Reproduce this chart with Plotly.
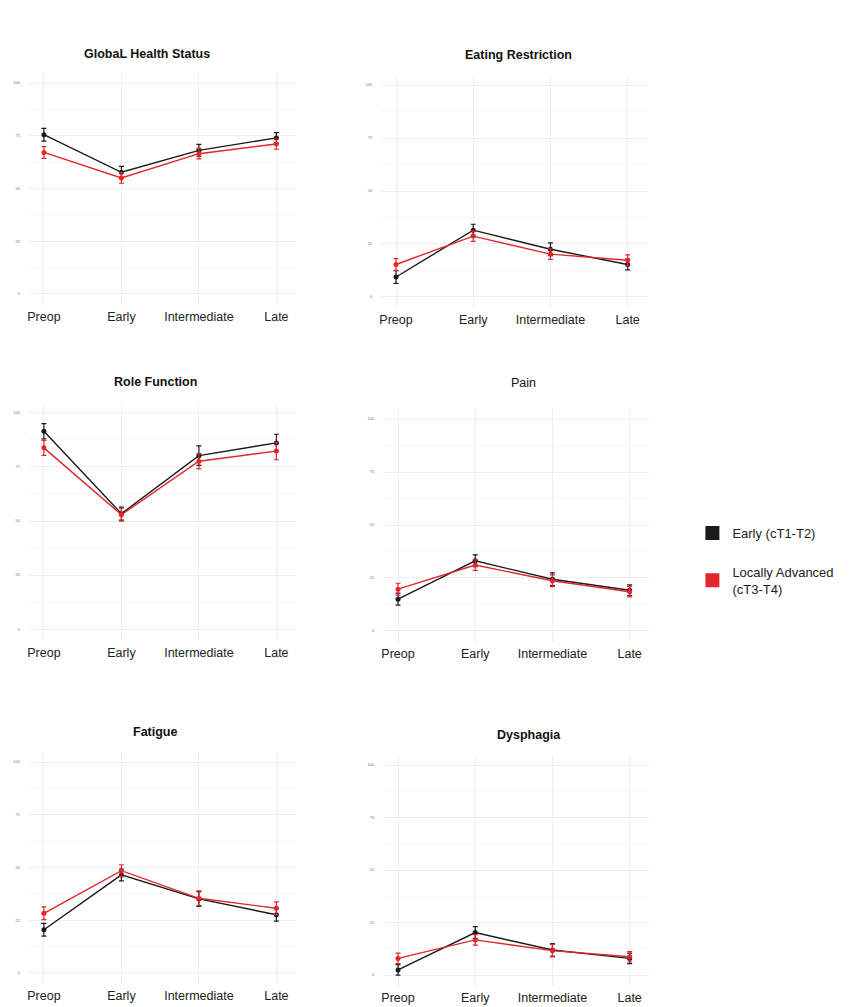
import plotly.graph_objects as go

W, H = 862, 1007

timepoints = ["Preop", "Early", "Intermediate", "Late"]
y_ticks = [0, 25, 50, 75, 100]

group_names = ["Early (cT1-T2)", "Locally Advanced<br>(cT3-T4)"]
group_colors = ["#1a1a1a", "#e3262b"]

# Mean scores and error half-widths per time point, early vs locally advanced
ghs_early = [75.5, 57.7, 68.1, 74.0]
ghs_early_err = [3.0, 2.8, 2.8, 2.5]
ghs_adv = [67.1, 55.0, 66.5, 71.1]
ghs_adv_err = [2.8, 2.5, 2.5, 2.5]

eat_early = [9.4, 31.5, 22.5, 15.3]
eat_early_err = [3.0, 2.8, 3.0, 2.5]
eat_adv = [15.3, 28.7, 20.2, 17.3]
eat_adv_err = [2.8, 2.5, 2.5, 2.5]

role_early = [91.5, 53.4, 80.2, 86.1]
role_early_err = [3.5, 3.0, 4.5, 4.0]
role_adv = [83.8, 52.9, 77.6, 82.3]
role_adv_err = [3.5, 3.0, 3.5, 4.0]

pain_early = [15.0, 33.1, 24.4, 19.2]
pain_early_err = [2.8, 2.8, 3.0, 2.5]
pain_adv = [19.7, 31.1, 23.7, 18.5]
pain_adv_err = [2.8, 2.5, 2.8, 2.5]

fat_early = [20.5, 46.5, 35.1, 27.6]
fat_early_err = [3.0, 2.8, 3.5, 3.0]
fat_adv = [28.3, 48.5, 35.4, 30.7]
fat_adv_err = [3.0, 2.8, 3.5, 3.0]

dys_early = [2.4, 20.2, 11.9, 7.9]
dys_early_err = [2.5, 2.8, 3.0, 2.5]
dys_adv = [7.9, 16.7, 11.6, 8.7]
dys_adv_err = [2.5, 2.5, 3.0, 2.5]

panel_titles = ["GlobaL Health Status", "Eating Restriction", "Role Function",
                "Pain", "Fatigue", "Dysphagia"]
title_bold = [True, True, True, False, True, True]

panels = [
    (ghs_early, ghs_early_err, ghs_adv, ghs_adv_err),
    (eat_early, eat_early_err, eat_adv, eat_adv_err),
    (role_early, role_early_err, role_adv, role_adv_err),
    (pain_early, pain_early_err, pain_adv, pain_adv_err),
    (fat_early, fat_early_err, fat_adv, fat_adv_err),
    (dys_early, dys_early_err, dys_adv, dys_adv_err),
]

# Plot-area boxes in pixels: (left, right, top, bottom)
boxes = [
    (27, 295, 72.5, 304.5),
    (380, 647, 74.5, 307.5),
    (27, 295, 402, 640),
    (382, 649, 408.5, 641.5),
    (27, 295, 751.5, 983.5),
    (382, 649, 754.5, 985.5),
]
title_pos = [(145, 54), (518, 55), (154, 382), (523, 383), (153, 732), (528, 735)]

FONT = "Liberation Sans, Arial, sans-serif"

fig = go.Figure()
annotations = []

for i, ((e, ee, a, ae), (x0, x1, y0, y1)) in enumerate(zip(panels, boxes)):
    n = i + 1
    xa = "x" if n == 1 else f"x{n}"
    ya = "y" if n == 1 else f"y{n}"
    for vals, errs, col in ((e, ee, group_colors[0]), (a, ae, group_colors[1])):
        fig.add_trace(go.Scatter(
            x=timepoints, y=vals, mode="lines+markers",
            line=dict(color=col, width=1.4),
            marker=dict(color=col, size=5),
            error_y=dict(type="data", array=errs, color=col, thickness=1.2, width=2.5),
            xaxis=xa, yaxis=ya, showlegend=False,
        ))
    xkey = "xaxis" if n == 1 else f"xaxis{n}"
    ykey = "yaxis" if n == 1 else f"yaxis{n}"
    fig.layout[xkey] = dict(
        domain=[x0 / W, x1 / W], anchor=ya, type="category",
        range=[-0.193, 3.257], showgrid=True, gridcolor="#efefef", gridwidth=1,
        minor=dict(showgrid=True, gridcolor="#f7f7f7", gridwidth=0.6),
        zeroline=False, showline=False, ticks="",
        tickfont=dict(family=FONT, size=12.5, color="#222222"),
        ticklabelstandoff=3,
    )
    fig.layout[ykey] = dict(
        domain=[1 - y1 / H, 1 - y0 / H], anchor=xa,
        range=[-5, 105], tickvals=y_ticks, ticktext=[str(t) for t in y_ticks],
        showgrid=True, gridcolor="#efefef", gridwidth=1,
        minor=dict(showgrid=True, gridcolor="#f7f7f7", gridwidth=0.6, dtick=12.5, tick0=0),
        zeroline=False, showline=False, ticks="",
        tickfont=dict(family=FONT, size=4, color="#777777"),
        ticklabelstandoff=8,
    )
    tx, ty = title_pos[i]
    txt = f"<b>{panel_titles[i]}</b>" if title_bold[i] else panel_titles[i]
    annotations.append(dict(
        text=txt, x=tx / W, y=1 - ty / H, xref="paper", yref="paper",
        xanchor="center", yanchor="middle", showarrow=False,
        font=dict(family=FONT, size=12.5, color="#111111"),
    ))

# Legend entries shown as filled squares
for name, col in zip(group_names, group_colors):
    fig.add_trace(go.Scatter(
        x=[None], y=[None], mode="markers", name=name, legendgroup=name,
        marker=dict(symbol="square", size=14, color=col),
    ))

fig.update_layout(
    width=W, height=H,
    margin=dict(l=0, r=0, t=0, b=0),
    paper_bgcolor="white", plot_bgcolor="white",
    annotations=annotations,
    showlegend=True,
    legend=dict(
        x=692 / W, y=1 - 518 / H, xanchor="left", yanchor="top",
        font=dict(family=FONT, size=13, color="#222222"),
        tracegroupgap=19, itemwidth=30, bgcolor="rgba(0,0,0,0)",
    ),
)

fig.write_html("out.html")
